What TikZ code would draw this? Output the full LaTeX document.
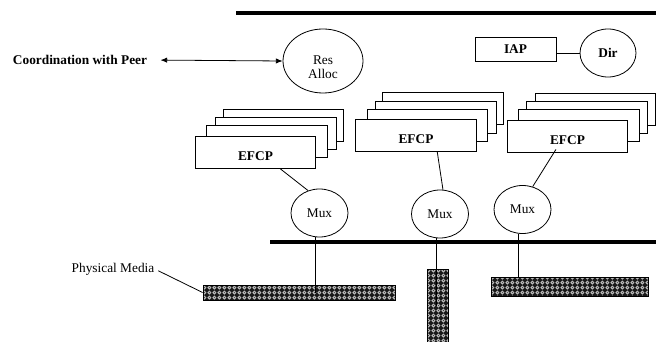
\documentclass[tikz,border=0pt]{standalone}
\usepackage{fontspec}
\setmainfont{Liberation Serif}
\usetikzlibrary{shapes.geometric,arrows.meta,patterns.meta,calc}

% dark mesh used for the physical media bars
\tikzdeclarepattern{
  name=mediamesh, type=colored,
  bottom left={(0pt,0pt)}, top right={(4pt,4pt)}, tile size={(4pt,4pt)},
  code={
    \fill[black!90] (0pt,0pt) rectangle (4pt,4pt);
    \draw[gray!55, line width=0.8pt] (2pt,2pt) circle (1.2pt);
  }
}

\begin{document}
\begin{tikzpicture}[x=0.75pt, y=-0.75pt, line width=0.6pt,
  every node/.style={font=\fontsize{10}{10.5}\selectfont},
  caption/.style={inner sep=0pt},
  boldtext/.style={font=\fontsize{10}{12}\selectfont\bfseries},
  blob/.style={draw, ellipse, inner sep=0pt},
  muxnode/.style={blob, minimum width=42.75pt, minimum height=36pt},
  stackbox/.style={draw, fill=white, rectangle, inner sep=0pt,
                   minimum width=90.5pt, minimum height=24pt},
  efcpbox/.style={stackbox, label={[caption, boldtext, yshift=-3pt]center:EFCP}},
  media/.style={draw, rectangle, inner sep=0pt, pattern=mediamesh},
  bus/.style={line width=3pt},
  tip/.style={{Latex[length=5pt,width=4pt]}-{Latex[length=5pt,width=4pt]}}
]
\useasboundingbox (0,0) rectangle (656,342);

% layer boundaries
\draw[bus] (236,13) -- (656,13);
\draw[bus] (270,242) -- (656,242);

% management part
\node[caption, boldtext] (coord) at (80,60) {Coordination with Peer};
\node[blob, minimum width=60pt, minimum height=48pt,
      label={[caption, align=center, yshift=-4.5pt]center:Res\\Alloc}] (res) at (323,61) {};
\draw[tip, shorten <=9.75pt] (coord.east) -- (res.west);

\node[draw, rectangle, inner sep=0pt, minimum width=60.75pt, minimum height=18pt,
      boldtext] (iap) at (515.5,49) {IAP};
\node[blob, minimum width=42pt, minimum height=36pt, boldtext] (dir) at (608,53) {Dir};
\draw (iap.east |- dir.west) -- (dir.west);

% EFCP stacks, back to front
\node[stackbox] (efcpL3) at (283.5,125.5) {};
\node[stackbox] (efcpL2) at (276,133) {};
\node[stackbox] (efcpL1) at (267,141) {};
\node[efcpbox] (efcpL) at (255.5,152.5) {};

\node[stackbox] (efcpM3) at (443,108.5) {};
\node[stackbox] (efcpM2) at (436,117) {};
\node[stackbox] (efcpM1) at (427.5,125.5) {};
\node[efcpbox] (efcpM) at (416,135.5) {};

\node[stackbox] (efcpR3) at (595.5,109) {};
\node[stackbox] (efcpR2) at (587,117) {};
\node[stackbox] (efcpR1) at (579,125) {};
\node[efcpbox] (efcpR) at (567.5,136) {};

% multiplexers
\node[muxnode] (muxL) at (319.5,213) {Mux};
\node[muxnode] (muxM) at (440,214) {Mux};
\node[muxnode] (muxR) at (522.5,209.5) {Mux};

\draw ($(efcpL.south west)!0.705!(efcpL.south east)$) -- (muxL.117);
\draw ($(efcpM.south west)!0.675!(efcpM.south east)$) -- (muxM.83);
\draw ($(efcpR.south west)!0.405!(efcpR.south east)+(0,-3)$) -- (muxR.66);

% physical media
\node[media, minimum width=144pt, minimum height=11.25pt] (pmL) at (299,292.5) {};
\node[media, minimum width=15.75pt, minimum height=54.75pt] (pmM) at (437.5,305.5) {};
\node[media, minimum width=117.75pt, minimum height=14.25pt] (pmR) at (569.5,286.5) {};

\draw (muxL.260) -- (muxL.260 |- pmL.center);
\draw (muxM.262) -- (muxM.262 |- pmM.center);
\draw (muxR.260) -- (muxR.260 |- pmR.north);

\node[caption] (pml) at (113,269) {Physical Media};
\draw[shorten <=3pt] (pml.east) -- (pmL.west);
\end{tikzpicture}
\end{document}
